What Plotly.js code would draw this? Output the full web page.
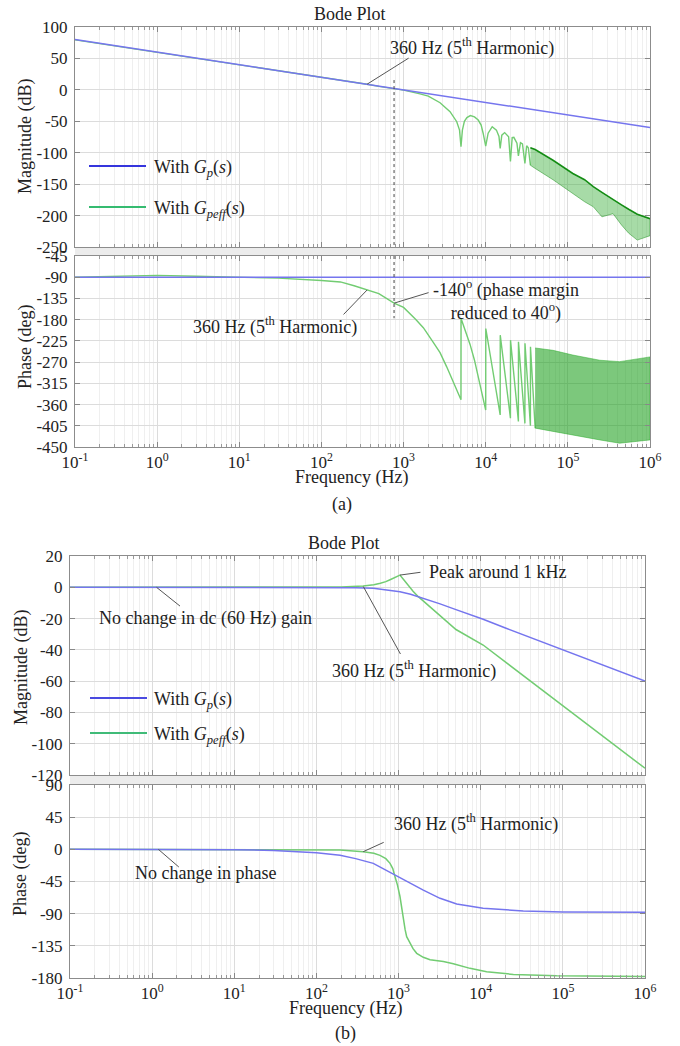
<!DOCTYPE html>
<html><head><meta charset="utf-8">
<script src="https://cdn.plot.ly/plotly-3.0.1.min.js"></script>
<style>html,body{margin:0;padding:0;background:#fff}#chart{width:680px;height:1046px}</style>
</head><body><div id="chart"></div>
<script>
// ---------- Panel (a) data ----------
const freqA_Gp = [0.1, 1, 10, 100, 1000, 10000, 100000, 1000000];
const magA_Gp = [80, 60, 40, 20, 0, -20, -40, -60];
const phaseA_Gp = [-90, -90, -90, -90, -90, -90, -90, -90];

const freqA_magGpeff = [0.1, 1, 10, 100, 200, 360, 500, 766, 1000, 1585, 2000, 2780, 3680, 4440, 4800, 5000, 5200, 5500, 5900, 6500, 7300, 8100, 8800, 9300, 10000, 10700, 12000, 13500, 14500, 15000, 15700, 17000, 19000, 20000, 21000, 22000, 24000, 25000, 26500, 28000, 30000, 31500, 33000, 35000];
const magA_Gpeff = [79.5, 60, 40, 20, 14, 9, 5.5, 2.4, -0.5, -6.5, -9.9, -20.5, -34.8, -50.7, -64, -90.5, -64, -50, -44, -41, -43, -48, -56, -69, -89.5, -69, -58.6, -64, -74, -93, -72, -68, -74.6, -114, -76, -75.6, -85, -105, -84, -86, -117, -89, -92, -120];

const freqA_magBand = [35000, 40000, 66000, 115000, 160000, 204000, 260000, 355000, 450000, 550000, 700000, 1000000];
const magA_bandUpper = [-92, -95, -112, -133, -143, -154, -163, -175, -183, -190, -198, -205];
const magA_bandLower = [-120, -125, -143, -165, -178, -186, -202, -197, -215, -228, -239, -232];

const freqA_phGpeff = [0.1, 0.3, 1, 3, 10, 30, 100, 170, 250, 360, 500, 766, 1000, 1400, 1585, 1740, 2300, 2780, 3350, 3800, 4230, 4600, 5000, 5010, 5800, 6460, 7300, 8130, 9000, 10000, 10020, 15000, 15030, 20000, 20040, 25000, 25050, 30000, 30060, 35000, 35070, 40000];
const phaseA_Gpeff = [-90, -88, -86, -88, -90, -92, -97, -100, -108, -117, -124.6, -145, -154, -179, -190, -197, -228, -250, -280, -302, -322, -336, -350, -177.5, -208, -233, -266, -300, -334, -371.6, -198.7, -382, -212.8, -389, -223.4, -396, -227, -400, -230, -405, -237.6, -410];

const freqA_phBand = [40000, 66000, 115000, 245000, 427000, 1000000];
const phaseA_bandUpper = [-240, -245, -255, -266, -269, -259];
const phaseA_bandLower = [-410, -417, -425, -435, -442, -435];

const markerFreqA = [766, 766];
const markerMagA = [15.6, -250];
const markerPhaseA = [-45, -177];

// ---------- Panel (b) data ----------
const freqB_magGp = [0.1, 1, 10, 30, 100, 194, 300, 493, 700, 1040, 1400, 1740, 2400, 3200, 5000, 10700, 20000, 52000, 100000, 1000000];
const magB_Gp = [0, 0, 0, -0.02, -0.05, -0.15, -0.3, -0.65, -1.5, -2.9, -4.4, -6.0, -8.3, -10.6, -14.3, -20.4, -26, -34.3, -40, -59.9];

const freqB_magGpeff = [0.1, 1, 10, 100, 200, 371, 500, 600, 700, 800, 900, 980, 1040, 1150, 1300, 1500, 1740, 2400, 3200, 5000, 10700, 20000, 52000, 100000, 1000000];
const magB_Gpeff = [0, 0, 0, 0.05, 0.2, 0.8, 1.6, 2.6, 3.6, 5.0, 6.3, 7.3, 7.8, 5.0, 1.5, -2.5, -6.0, -12.5, -18, -27, -36.9, -47.7, -64.3, -75.7, -115.7];

const freqB_phGp = [0.1, 1, 10, 30, 100, 194, 300, 492, 700, 1040, 1500, 2000, 3200, 5100, 10700, 33000, 100000, 1000000];
const phaseB_Gp = [0, 0, -0.5, -1.5, -4.7, -8.4, -13, -19.6, -29, -40.6, -50, -57, -68.5, -76.5, -82.5, -86.3, -87.6, -88];

const freqB_phGpeff = [0.1, 1, 10, 30, 100, 194, 371, 500, 594, 700, 787, 850, 905, 970, 1040, 1090, 1142, 1200, 1255, 1377, 1500, 1663, 2000, 2416, 3510, 4640, 7410, 11800, 25000, 84000, 1000000];
const phaseB_Gpeff = [0, 0, 0, -0.2, -0.5, -1, -3.3, -5.5, -8.4, -13, -19.6, -27, -38.3, -50, -66, -82, -98.9, -112, -122.2, -131.5, -139, -145.5, -151, -154.5, -157, -160, -166.5, -171.2, -175, -177, -178];

// ---------- tick labels ----------
const decadeVals = [0.1, 1, 10, 100, 1000, 10000, 100000, 1000000];
const decadeText = ['10<sup>-1</sup>', '10<sup>0</sup>', '10<sup>1</sup>', '10<sup>2</sup>', '10<sup>3</sup>', '10<sup>4</sup>', '10<sup>5</sup>', '10<sup>6</sup>'];
const magA_ticks = [100, 50, 0, -50, -100, -150, -200, -250];
const phaseA_ticks = [-45, -90, -135, -180, -225, -270, -315, -360, -405, -450];
const magB_ticks = [20, 0, -20, -40, -60, -80, -100, -120];
const phaseB_ticks = [90, 45, 0, -45, -90, -135, -180];

// ---------- styling ----------
const W = 680, H = 1046;
const px = x => x / W, py = y => 1 - y / H;
const FONT = '"Liberation Serif", "Times New Roman", serif';
const TXT = '#222';
const BLUE = '#7575ee', GREEN = '#72cc72';
const minorVals = [];
for (let e = -1; e < 6; e++) for (let m = 2; m <= 9; m++) minorVals.push(m * Math.pow(10, e));

function xax(domain, anchor, labels) {
  return {
    type: 'log', range: [-1, 6], domain, anchor, automargin: false,
    tickmode: 'array', tickvals: decadeVals, ticktext: decadeText, showticklabels: labels,
    ticks: 'inside', ticklen: 5, tickcolor: '#888', showline: true, linecolor: '#8c8c8c', mirror: 'ticks',
    showgrid: true, gridcolor: '#dcdcdc', zeroline: false,
    tickfont: { family: FONT, size: 17, color: TXT },
    minor: { tickmode: 'array', tickvals: minorVals, ticks: 'inside', ticklen: 3, tickcolor: '#999', showgrid: true, gridcolor: '#efefef' }
  };
}
function yax(domain, anchor, range, vals) {
  return {
    range, domain, anchor, automargin: false,
    tickmode: 'array', tickvals: vals, ticktext: vals.map(v => String(v)),
    ticks: 'inside', ticklen: 5, tickcolor: '#888', showline: true, linecolor: '#8c8c8c', mirror: 'ticks',
    showgrid: true, gridcolor: '#dcdcdc', zeroline: false, ticklabelstandoff: 3,
    tickfont: { family: FONT, size: 17, color: TXT }
  };
}

function line(x, y, xa, ya, color, width, dash) {
  return { type: 'scatter', mode: 'lines', x, y, xaxis: xa, yaxis: ya, line: { color, width, dash: dash || 'solid' }, hoverinfo: 'skip', showlegend: false };
}
function band(x, up, lo, xa, ya, fill, edge) {
  return { type: 'scatter', mode: 'lines', x: x.concat(x.slice().reverse()), y: up.concat(lo.slice().reverse()),
    xaxis: xa, yaxis: ya, fill: 'toself', fillcolor: fill, line: { color: edge, width: 0.8 }, hoverinfo: 'skip', showlegend: false };
}

const traces = [
  line(freqA_magGpeff, magA_Gpeff, 'x', 'y', GREEN, 1.4),
  band(freqA_magBand, magA_bandUpper, magA_bandLower, 'x', 'y', 'rgba(60,175,60,0.45)', 'rgba(20,140,20,0.6)'),
  line(freqA_magBand, magA_bandUpper, 'x', 'y', 'rgba(0,130,0,0.85)', 1.6),
  line(freqA_Gp, magA_Gp, 'x', 'y', BLUE, 1.5),
  line(markerFreqA, markerMagA, 'x', 'y', '#444', 1, 'dot'),
  line(freqA_phGpeff, phaseA_Gpeff, 'x2', 'y2', GREEN, 1.4),
  band(freqA_phBand, phaseA_bandUpper, phaseA_bandLower, 'x2', 'y2', 'rgba(30,160,30,0.58)', 'rgba(40,170,40,0.6)'),
  line(freqA_Gp, phaseA_Gp, 'x2', 'y2', BLUE, 1.5),
  line(markerFreqA, markerPhaseA, 'x2', 'y2', '#444', 1, 'dot'),
  line(freqB_magGpeff, magB_Gpeff, 'x3', 'y3', GREEN, 1.5),
  line(freqB_magGp, magB_Gp, 'x3', 'y3', BLUE, 1.5),
  line(freqB_phGpeff, phaseB_Gpeff, 'x4', 'y4', GREEN, 1.5),
  line(freqB_phGp, phaseB_Gp, 'x4', 'y4', BLUE, 1.5)
];

const xDomA = [px(75), px(650)], xDomB = [px(70), px(645)];
const layout = {
  width: W, height: H, margin: { l: 0, r: 0, t: 0, b: 0 },
  paper_bgcolor: '#fff', plot_bgcolor: '#fff', showlegend: false,
  xaxis: xax(xDomA, 'y', false),
  yaxis: yax([py(247), py(27)], 'x', [-250, 100], magA_ticks),
  xaxis2: xax(xDomA, 'y2', true),
  yaxis2: yax([py(447), py(256)], 'x2', [-450, -45], phaseA_ticks),
  xaxis3: xax(xDomB, 'y3', false),
  yaxis3: yax([py(775), py(556)], 'x3', [-120, 20], magB_ticks),
  xaxis4: xax(xDomB, 'y4', true),
  yaxis4: yax([py(978), py(785)], 'x4', [-180, 90], phaseB_ticks),
  shapes: [], annotations: []
};

const S = layout.shapes, A = layout.annotations;
// gray strips between stacked axes
S.push({ type: 'rect', xref: 'paper', yref: 'paper', x0: px(75), x1: px(650), y0: py(256), y1: py(247), fillcolor: '#ececec', line: { width: 0 }, layer: 'below' });
S.push({ type: 'rect', xref: 'paper', yref: 'paper', x0: px(70), x1: px(645), y0: py(785), y1: py(775), fillcolor: '#ececec', line: { width: 0 }, layer: 'below' });
// legend samples
function legLine(x0, x1, y, color) { S.push({ type: 'line', xref: 'paper', yref: 'paper', x0: px(x0), x1: px(x1), y0: py(y), y1: py(y), line: { color, width: 2 } }); }
legLine(89, 146, 166, '#3535dd'); legLine(89, 146, 207, '#35bb70');
legLine(90, 147, 698, '#4a4ae0'); legLine(90, 147, 733, '#40bb78');

function txt(text, x, y, opts) {
  A.push(Object.assign({ text, xref: 'paper', yref: 'paper', x: px(x), y: py(y), xanchor: 'center', yanchor: 'middle', showarrow: false,
    font: { family: FONT, size: 18, color: TXT } }, opts || {}));
}
function leader(xa, ya, f, v, ax, ay) {
  A.push({ text: '', xref: xa, yref: ya, x: Math.log10(f), y: v, showarrow: true, arrowhead: 0, arrowwidth: 1, arrowcolor: '#555', ax, ay, standoff: 0, startstandoff: 0 });
}
const GP = 'With <i>G</i><sub><i>p</i></sub>(<i>s</i>)';
const GPEFF = 'With <i>G</i><sub><i>peff</i></sub>(<i>s</i>)';
const H5 = '360 Hz (5<sup>th</sup> Harmonic)';

// panel (a)
txt('Bode Plot', 350, 14);
txt(H5, 472, 47); leader('x', 'y', 360, 9, 43, -27);
txt(GP, 152, 168, { xanchor: 'left' });
txt(GPEFF, 152, 209, { xanchor: 'left' });
txt(H5, 275, 326); leader('x2', 'y2', 360, -117, -25, 26);
txt('-140<sup>o</sup> (phase margin<br>reduced to 40<sup>o</sup>)', 506, 300, { align: 'center' }); leader('x2', 'y2', 766, -145, 36, -11);
txt('Magnitude (dB)', 26, 137, { textangle: -90 });
txt('Phase (deg)', 26, 347, { textangle: -90 });
txt('Frequency (Hz)', 351, 478);
txt('(a)', 342, 505);

// panel (b)
txt('Bode Plot', 344, 543);
txt('Peak around 1 kHz', 427, 572, { xanchor: 'left' }); leader('x3', 'y3', 1040, 7.8, 22, -3);
txt('No change in dc (60 Hz) gain', 205, 618); leader('x3', 'y3', 1.13, 0, 25, 20);
txt(H5, 414, 670); leader('x3', 'y3', 372, 0.5, 38, 69);
txt(GP, 152, 700, { xanchor: 'left' });
txt(GPEFF, 152, 735, { xanchor: 'left' });
txt('No change in phase', 205, 873); leader('x4', 'y4', 1.19, 0, 22, 19);
txt(H5, 476, 823); leader('x4', 'y4', 371, -3.3, 22, -10);
txt('Magnitude (dB)', 21, 668, { textangle: -90 });
txt('Phase (deg)', 20, 874, { textangle: -90 });
txt('Frequency (Hz)', 345, 1008);
txt('(b)', 345, 1033);

Plotly.newPlot('chart', traces, layout, { displayModeBar: false, staticPlot: true });
</script>
</body></html>
